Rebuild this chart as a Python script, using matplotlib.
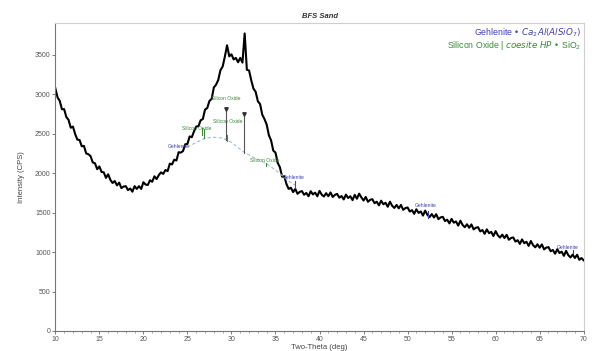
import numpy as np
import matplotlib
matplotlib.use("Agg")
import matplotlib.pyplot as plt
from matplotlib.ticker import MultipleLocator

plt.rcParams['font.family'] = ['Liberation Sans', 'DejaVu Sans']

two_theta_start = 10.0
two_theta_step = 0.25
intensity = [
    3075, 2960, 2915, 2810, 2810, 2710, 2675, 2575,   # 10-12
    2590, 2495, 2425, 2420, 2340, 2345, 2250, 2240,   # 12-14
    2215, 2135, 2125, 2050, 2085, 2015, 2010, 1940,   # 14-16
    1985, 1915, 1875, 1900, 1845, 1880, 1810, 1830,   # 16-18
    1835, 1785, 1805, 1765, 1835, 1800, 1835, 1800,   # 18-20
    1885, 1855, 1850, 1910, 1890, 1960, 1925, 1975,   # 20-22
    2010, 1990, 2040, 2025, 2120, 2110, 2170, 2160,   # 22-24
    2265, 2260, 2280, 2365, 2370, 2465, 2455, 2530,   # 24-26
    2590, 2595, 2670, 2685, 2805, 2825, 2915, 2940,   # 26-28
    3085, 3120, 3180, 3305, 3350, 3475, 3620, 3480,   # 28-30
    3505, 3440, 3460, 3405, 3460, 3400, 3770, 3310,   # 30-32
    3300, 3175, 3070, 3030, 2910, 2875, 2740, 2685,   # 32-34
    2615, 2480, 2415, 2285, 2260, 2130, 2075, 1955,   # 34-36
    1960, 1860, 1800, 1815, 1760, 1800, 1738, 1762,   # 36-38
    1773, 1726, 1749, 1707, 1771, 1730, 1753, 1707,   # 38-40
    1775, 1727, 1704, 1746, 1708, 1755, 1698, 1725,   # 40-42
    1737, 1689, 1710, 1667, 1728, 1685, 1707, 1658,   # 42-44
    1725, 1676, 1740, 1693, 1653, 1698, 1637, 1661,   # 44-46
    1670, 1619, 1638, 1592, 1651, 1605, 1625, 1574,   # 46-48
    1638, 1586, 1559, 1597, 1554, 1597, 1535, 1557,   # 48-50
    1565, 1513, 1531, 1484, 1542, 1496, 1514, 1462,   # 50-52
    1525, 1472, 1444, 1481, 1438, 1480, 1417, 1439,   # 52-54
    1446, 1393, 1410, 1363, 1420, 1372, 1388, 1335,   # 54-56
    1397, 1343, 1315, 1352, 1308, 1350, 1287, 1308,   # 56-58
    1315, 1262, 1279, 1231, 1288, 1239, 1256, 1203,   # 58-60
    1265, 1212, 1184, 1221, 1178, 1219, 1156, 1178,   # 60-62
    1185, 1133, 1150, 1103, 1160, 1113, 1130, 1078,   # 62-64
    1140, 1088, 1060, 1098, 1055, 1097, 1034, 1056,   # 64-66
    1063, 1010, 1027, 979, 1036, 988, 1005, 952,      # 66-68
    1015, 961, 932, 968, 925, 966, 902, 924,          # 68-70
    895,
]
two_theta = two_theta_start + two_theta_step * np.arange(len(intensity))

# Fitted amorphous background (dashed)
bg_theta = [25.0, 26.2, 27.0, 27.9, 29.0, 30.0, 31.3, 32.5, 33.9, 35.0, 36.5, 37.2]
bg_int = [2330, 2400, 2440, 2455, 2445, 2390, 2275, 2200, 2125, 2040, 1900, 1850]

# Phase sticks: (position, bottom, top, colour, marker on top)
stick_pos = [26.6, 26.9, 29.4, 29.55, 31.47, 33.9, 37.2, 52.3, 68.8]
stick_bot = [2485, 2450, 2420, 2410, 2253, 2085, 1810, 1430, 985]
stick_top = [2570, 2560, 2807, 2480, 2744, 2127, 1900, 1520, 1030]
stick_col = ['g', 'g', 'g', 'g', 'g', 'g', 'b', 'b', 'b']
stick_mark = [False, False, True, False, True, False, False, False, False]

# Peak labels
label_text = ['Gehlenite', 'Silicon Oxide', 'Silicon Oxide', 'Silicon Oxide',
              'Silicon Oxide', 'Gehlenite', 'Gehlenite', 'Gehlenite']
label_x = [24.0, 26.1, 29.6, 29.4, 33.8, 37.1, 52.1, 68.2]
label_y = [2333, 2568, 2652, 2946, 2157, 1939, 1590, 1057]
label_col = ['b', 'g', 'g', 'g', 'g', 'b', 'b', 'b']

colors = {'b': '#3f3fb5', 'g': '#3a8a3a'}

fig = plt.figure(figsize=(5.95, 3.51), dpi=100)
ax = fig.add_axes([0.093, 0.057, 0.888, 0.877])

ax.plot(two_theta, intensity, color='black', lw=1.5)
ax.plot(bg_theta, bg_int, color='#a9b8d8', lw=0.8, ls=(0, (3, 2)))

for p, b, t, c, m in zip(stick_pos, stick_bot, stick_top, stick_col, stick_mark):
    col = '#555555' if m else colors[c]
    ax.plot([p, p], [b, t], color=col, lw=0.8)
    if m:
        ax.plot([p], [t], marker='v', ms=2.5, color='#333333')

for t, x, y, c in zip(label_text, label_x, label_y, label_col):
    ax.text(x, y, t, color=colors[c], fontsize=3.6, ha='center', va='center')

ax.text(0.995, 0.99, 'Gehlenite \u2022 $\\mathit{Ca_2Al(AlSiO_7)}$', transform=ax.transAxes,
        color=colors['b'], fontsize=6.3, ha='right', va='top')
ax.text(0.995, 0.95, 'Silicon Oxide | $\\mathit{coesite\\ HP}$ \u2022 SiO$_2$', transform=ax.transAxes,
        color=colors['g'], fontsize=6.3, ha='right', va='top')

ax.set_xlim(10, 70)
ax.set_ylim(0, 3900)
ax.xaxis.set_major_locator(MultipleLocator(5))
ax.xaxis.set_minor_locator(MultipleLocator(1))
ax.yaxis.set_major_locator(MultipleLocator(500))

ax.tick_params(axis='both', which='major', labelsize=5, colors='#666666', length=2, width=0.6, pad=1.5)
ax.tick_params(axis='x', which='minor', length=1.5, width=0.5, colors='#888888')
ax.tick_params(labelcolor='#555555')

for s in ['left', 'bottom']:
    ax.spines[s].set_color('#777777')
    ax.spines[s].set_linewidth(0.8)
for s in ['top', 'right']:
    ax.spines[s].set_color('#cfcfcf')
    ax.spines[s].set_linewidth(0.8)

ax.set_xlabel('Two-Theta (deg)', fontsize=5.5, color='#444444', labelpad=1)
ax.set_ylabel('Intensity (CPS)', fontsize=5.5, color='#444444', labelpad=7)
ax.set_title('BFS Sand', fontsize=5.5, fontweight='bold', fontstyle='italic', color='#333333', pad=4)

fig.savefig('out.png', dpi=100)
